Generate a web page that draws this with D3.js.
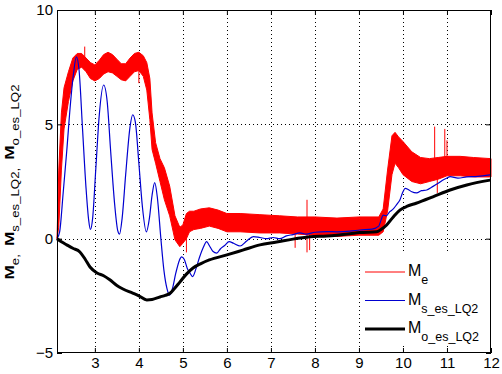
<!DOCTYPE html>
<html lang="en">
<head>
<meta charset="UTF-8">
<title>Me / Ms / Mo</title>
<style>
  body { margin: 0; background: #fff; }
  text { font-family: "Liberation Sans", Arial, sans-serif; }
</style>
</head>
<body>
<script src="https://d3js.org/d3.v7.min.js"></script>
<script>
// ---- data ----
const xTicks = [3, 4, 5, 6, 7, 8, 9, 10, 11, 12];
const yTicks = [-5, 0, 5, 10];

// Me is a thick noisy band: upper and lower envelope
const meX     = [2.14, 2.18, 2.24, 2.3, 2.4, 2.5, 2.6, 2.7, 2.8, 2.9, 3.0, 3.1, 3.2, 3.3, 3.4, 3.5, 3.6, 3.7, 3.8, 3.9, 4.0, 4.1, 4.18, 4.25, 4.3, 4.38, 4.48, 4.58, 4.7, 4.82, 4.93, 5.0, 5.08, 5.15, 5.25, 5.4, 5.6, 5.8, 6.0, 6.3, 6.75, 7.2, 7.6, 8.0, 8.5, 9.0, 9.45, 9.55, 9.65, 9.75, 9.82, 9.9, 10.0, 10.2, 10.4, 10.6, 10.8, 11.0, 11.3, 11.6, 12.0];
const meUpper = [0.0, 3.0, 5.5, 6.6, 7.3, 7.9, 8.1, 8.1, 7.9, 7.7, 7.6, 7.8, 8.05, 8.15, 8.05, 7.85, 7.65, 7.65, 7.9, 8.1, 8.15, 8.0, 7.7, 7.0, 5.5, 4.2, 3.5, 3.1, 2.3, 1.0, 0.5, 0.6, 1.1, 1.2, 1.2, 1.3, 1.35, 1.25, 1.1, 1.1, 1.05, 1.0, 0.95, 0.95, 0.9, 0.95, 0.95, 1.3, 3.0, 4.5, 4.65, 4.45, 4.25, 3.8, 3.55, 3.5, 3.55, 3.6, 3.6, 3.55, 3.5];
const meLower = [0.0, 0.5, 3.0, 4.8, 6.0, 6.9, 7.4, 7.5, 7.3, 7.0, 6.9, 7.0, 7.2, 7.3, 7.25, 7.1, 6.95, 6.9, 7.1, 7.3, 7.35, 7.1, 6.5, 5.2, 3.9, 3.3, 2.5, 1.7, 1.0, -0.05, -0.35, -0.2, 0.0, 0.3, 0.4, 0.45, 0.55, 0.45, 0.3, 0.3, 0.25, 0.25, 0.2, 0.15, 0.1, 0.15, 0.15, 0.3, 1.2, 2.8, 3.3, 3.1, 2.8, 2.5, 2.4, 2.5, 2.6, 2.75, 2.75, 2.7, 2.7];
// isolated spikes of Me: x, from, to
const meSpikeX  = [2.77, 4.0, 5.08, 7.55, 7.82, 7.88, 10.72, 10.78, 10.95, 11.0];
const meSpikeLo = [7.5, 6.8, -0.6, -0.4, -0.6, -0.5, 2.8, 2.0, 3.0, 3.0];
const meSpikeHi = [8.4, 7.5, 0.5, 0.3, 1.7, 0.3, 4.9, 3.0, 4.8, 4.3];

const msX = [2.14, 2.2, 2.28, 2.36, 2.45, 2.52, 2.58, 2.64, 2.72, 2.8, 2.86, 2.9, 2.95, 3.02, 3.1, 3.2, 3.28, 3.36, 3.45, 3.52, 3.56, 3.62, 3.7, 3.8, 3.86, 3.92, 4.0, 4.08, 4.17, 4.24, 4.3, 4.36, 4.42, 4.5, 4.57, 4.64, 4.7, 4.76, 4.84, 4.92, 4.97, 5.03, 5.1, 5.16, 5.22, 5.3, 5.38, 5.46, 5.54, 5.6, 5.68, 5.77, 5.85, 5.95, 6.05, 6.15, 6.3, 6.45, 6.6, 6.75, 6.9, 7.05, 7.2, 7.35, 7.5, 7.66, 7.8, 8.0, 8.27, 8.5, 8.8, 9.02, 9.3, 9.45, 9.5, 9.55, 9.62, 9.7, 9.78, 9.86, 9.93, 10.0, 10.05, 10.12, 10.2, 10.31, 10.42, 10.54, 10.65, 10.8, 10.9, 11.0, 11.07, 11.25, 11.45, 11.7, 11.98];
const msY = [0, 0.3, 2.0, 3.8, 6.0, 7.3, 7.95, 7.4, 4.8, 2.2, 0.8, 0.4, 0.9, 3.0, 5.4, 6.72, 6.0, 3.8, 1.5, 0.35, 0.2, 0.9, 2.8, 4.9, 5.42, 5.1, 3.3, 1.4, 0.3, 0.9, 1.9, 2.45, 1.8, 0.0, -1.4, -2.2, -2.47, -2.2, -1.5, -0.95, -0.8, -0.9, -1.3, -1.5, -1.66, -1.3, -0.8, -0.4, -0.13, -0.3, -0.55, -0.63, -0.45, -0.3, -0.13, -0.2, -0.32, -0.1, 0.09, 0.05, 0.0, 0.05, 0.0, 0.12, 0.18, 0.25, 0.2, 0.28, 0.31, 0.3, 0.33, 0.38, 0.42, 0.55, 0.8, 1.03, 1.0, 1.18, 1.3, 1.5, 1.69, 2.05, 2.2, 2.15, 2.05, 2.0, 2.1, 2.13, 2.25, 2.42, 2.55, 2.65, 2.71, 2.65, 2.7, 2.72, 2.79];

const moX = [2.14, 2.25, 2.36, 2.5, 2.66, 2.78, 2.89, 3.05, 3.2, 3.34, 3.5, 3.64, 3.86, 4.0, 4.18, 4.3, 4.48, 4.6, 4.7, 4.8, 4.93, 5.08, 5.23, 5.4, 5.6, 6.0, 6.36, 6.75, 7.13, 7.5, 7.89, 8.27, 8.8, 9.02, 9.4, 9.5, 9.63, 9.78, 9.93, 10.1, 10.3, 10.68, 11.07, 11.45, 11.98];
const moY = [0, -0.15, -0.27, -0.42, -0.58, -0.9, -1.24, -1.5, -1.62, -1.8, -2.05, -2.2, -2.38, -2.5, -2.68, -2.66, -2.55, -2.48, -2.4, -2.2, -1.9, -1.55, -1.28, -1.1, -0.93, -0.71, -0.5, -0.27, -0.15, -0.02, 0.08, 0.12, 0.22, 0.27, 0.3, 0.4, 0.6, 0.95, 1.25, 1.42, 1.55, 1.83, 2.13, 2.35, 2.56];

const legendNames = [["M", "e"], ["M", "s_es_LQ2"], ["M", "o_es_LQ2"]];
const yLabelParts = [["M", "e,"], ["M", "s_es_LQ2,"], ["M", "o_es_LQ2"]];
const colors = ["#ff0000", "#0000d0", "#000000"];

// ---- layout ----
const W = 502, H = 374;
const box = {left: 57, right: 491, top: 10, bottom: 353};

const x = d3.scaleLinear().domain([2.14, 12]).range([box.left, box.right]);
const y = d3.scaleLinear().domain([-5, 10]).range([box.bottom, box.top]);

const svg = d3.select("body").append("svg")
    .attr("width", W)
    .attr("height", H);

// grid
const grid = svg.append("g")
    .attr("stroke", "#000")
    .attr("stroke-width", 1)
    .attr("stroke-dasharray", "1,3");
grid.selectAll(".gx").data(xTicks.filter(d => d < 12)).enter().append("line")
    .attr("x1", d => Math.round(x(d)) + 0.5).attr("x2", d => Math.round(x(d)) + 0.5)
    .attr("y1", box.top).attr("y2", box.bottom);
grid.selectAll(".gy").data(yTicks.filter(d => d > -5 && d < 10)).enter().append("line")
    .attr("y1", d => Math.round(y(d)) + 0.5).attr("y2", d => Math.round(y(d)) + 0.5)
    .attr("x1", box.left).attr("x2", box.right);

// Me band
const band = d3.area()
    .x((d, i) => x(meX[i]))
    .y0((d, i) => y(meLower[i]))
    .y1((d, i) => y(meUpper[i]));
svg.append("path")
    .attr("d", band(meX))
    .attr("fill", colors[0])
    .attr("stroke", colors[0])
    .attr("stroke-width", 1);
svg.selectAll(".spike").data(meSpikeX).enter().append("line")
    .attr("x1", d => x(d)).attr("x2", d => x(d))
    .attr("y1", (d, i) => y(meSpikeLo[i]))
    .attr("y2", (d, i) => y(meSpikeHi[i]))
    .attr("stroke", colors[0])
    .attr("stroke-width", 1);

// Ms
const lineMs = d3.line()
    .x((d, i) => x(msX[i]))
    .y(d => y(d))
    .curve(d3.curveMonotoneX);
svg.append("path")
    .attr("d", lineMs(msY))
    .attr("fill", "none")
    .attr("stroke", colors[1])
    .attr("stroke-width", 1.2);

// Mo
const lineMo = d3.line()
    .x((d, i) => x(moX[i]))
    .y(d => y(d))
    .curve(d3.curveMonotoneX);
svg.append("path")
    .attr("d", lineMo(moY))
    .attr("fill", "none")
    .attr("stroke", colors[2])
    .attr("stroke-width", 3);

// axes (MATLAB style: box, inward ticks)
const axB = d3.axisBottom(x).tickValues(xTicks).tickSizeInner(-5).tickSizeOuter(0).tickPadding(4);
const axT = d3.axisTop(x).tickValues(xTicks).tickSizeInner(-5).tickSizeOuter(0).tickFormat("");
const axL = d3.axisLeft(y).tickValues(yTicks).tickSizeInner(-5).tickSizeOuter(0).tickPadding(4);
const axR = d3.axisRight(y).tickValues(yTicks).tickSizeInner(-5).tickSizeOuter(0).tickFormat("");

function styleAxis(g) {
    g.select(".domain").remove();
    g.selectAll("line").attr("stroke", "#000");
    g.selectAll("text")
        .attr("fill", "#000")
        .style("font-size", "15px")
        .style("font-family", "'Liberation Sans', Arial, sans-serif");
}
svg.append("g").attr("transform", `translate(0,${box.bottom})`).call(axB).call(styleAxis);
svg.append("g").attr("transform", `translate(0,${box.top})`).call(axT).call(styleAxis);
svg.append("g").attr("transform", `translate(${box.left},0)`).call(axL).call(styleAxis);
svg.append("g").attr("transform", `translate(${box.right},0)`).call(axR).call(styleAxis);

svg.append("rect")
    .attr("x", box.left + 0.5).attr("y", box.top + 0.5)
    .attr("width", box.right - box.left - 1).attr("height", box.bottom - box.top - 1)
    .attr("fill", "none")
    .attr("stroke", "#000");

// legend
const leg = svg.append("g");
leg.append("rect")
    .attr("x", 362).attr("y", 254)
    .attr("width", 127).attr("height", 92)
    .attr("fill", "#fff");
legendNames.forEach((n, i) => {
    const ly = 272 + i * 28.5;
    leg.append("line")
        .attr("x1", 365).attr("x2", 405)
        .attr("y1", ly).attr("y2", ly)
        .attr("stroke", colors[i])
        .attr("stroke-width", i === 2 ? 3 : 1);
    const t = leg.append("text")
        .attr("x", 408).attr("y", ly + 4)
        .attr("fill", "#000");
    t.append("tspan").style("font-size", "16px").text(n[0]);
    t.append("tspan").attr("dy", 8).style("font-size", "12.5px").text(n[1]);
});

// y label
const yl = svg.append("text")
    .attr("transform", "translate(14,182) rotate(-90) scale(1.15,0.9)")
    .attr("text-anchor", "middle")
    .attr("fill", "#000");
yLabelParts.forEach((p, i) => {
    yl.append("tspan")
        .attr("dy", i === 0 ? 0 : -6)
        .attr("dx", i === 0 ? 0 : 7)
        .style("font-size", "15px")
        .style("font-weight", "bold")
        .text(p[0]);
    yl.append("tspan")
        .attr("dy", 6)
        .style("font-size", "11.5px")
        .text(p[1]);
});
</script>
</body>
</html>
